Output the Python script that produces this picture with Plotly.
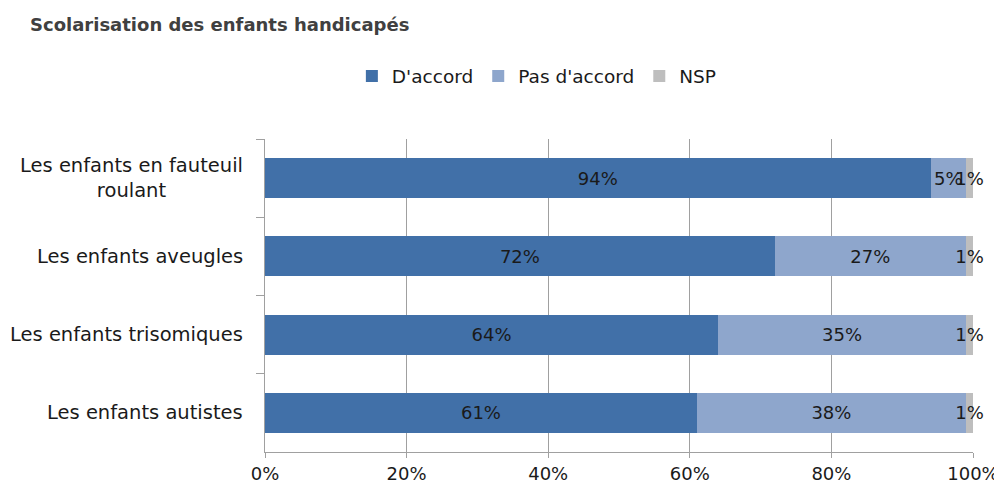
import plotly.graph_objects as go

categories = ["Les enfants en fauteuil<br>roulant", "Les enfants aveugles", "Les enfants trisomiques", "Les enfants autistes"]
series_names = ["D'accord", "Pas d'accord", "NSP"]
accord = [94, 72, 64, 61]
pas_accord = [5, 27, 35, 38]
nsp = [1, 1, 1, 1]
colors = ["#4170A8", "#8EA6CC", "#BEBEBE"]
x_ticks = [0, 20, 40, 60, 80, 100]
x_tick_labels = ["0%", "20%", "40%", "60%", "80%", "100%"]

FONT = "DejaVu Sans"
TXT = "#1a1a1a"
fig = go.Figure()
for name, vals, col in zip(series_names, [accord, pas_accord, nsp], colors):
    fig.add_trace(go.Bar(
        y=categories, x=vals, name=name, orientation="h",
        marker=dict(color=col, line=dict(width=0)),
        text=[f"{v}%" for v in vals], textposition="inside", textangle=0,
        insidetextanchor="middle", constraintext="none",
        textfont=dict(family=FONT, size=18, color=TXT),
        cliponaxis=False,
    ))

for c in categories:
    fig.add_annotation(x=0, xref="paper", xshift=-20, y=c, yref="y", text=c,
                       xanchor="right", yanchor="middle", align="center",
                       showarrow=False, font=dict(family=FONT, size=19.5, color=TXT))

fig.update_layout(
    barmode="stack", bargap=0.49,
    width=1002, height=490,
    margin=dict(l=257, r=37, t=131, b=46),
    plot_bgcolor="white", paper_bgcolor="white",
    font=dict(family=FONT, size=18, color=TXT),
    title=dict(text="<b>Scolarisation des enfants handicapés</b>", x=0.022, xanchor="left",
               y=0.965, yanchor="middle", font=dict(size=18, color="#404040")),
    legend=dict(orientation="h", x=0.384, xanchor="center", y=1.2, yanchor="middle",
                font=dict(size=18.5), itemwidth=30, traceorder="normal"),
)
fig.update_xaxes(range=[0, 100], tickvals=x_ticks, ticktext=x_tick_labels,
                 showgrid=True, gridcolor="#A0A0A0", gridwidth=1, automargin=False,
                 showline=True, linecolor="#A0A0A0", ticks="outside", ticklen=5,
                 tickcolor="#A0A0A0", zeroline=False, tickfont=dict(size=18))
fig.update_yaxes(autorange="reversed", showline=True, linecolor="#A0A0A0", automargin=False,
                 ticks="outside", ticklen=8, tickcolor="#A0A0A0", tickson="boundaries",
                 showticklabels=False)

fig.write_html("out.html")
